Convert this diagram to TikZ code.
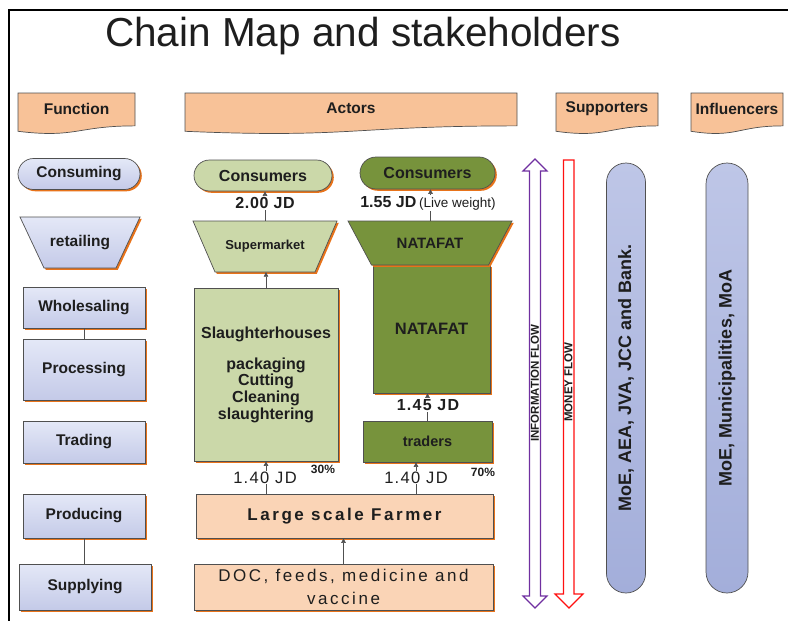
\documentclass[tikz,border=0pt]{standalone}
\usepackage{fontspec}
\setmainfont{Liberation Sans}
\usetikzlibrary{shapes.misc,shadows,arrows.meta}

\definecolor{tabfill}{HTML}{F8C298}
\definecolor{funtop}{HTML}{E4E8F7}
\definecolor{funbot}{HTML}{C4CAE8}
\definecolor{lgreen}{HTML}{CBD8A9}
\definecolor{dgreen}{HTML}{77933C}
\definecolor{peach}{HTML}{FAD4B6}
\definecolor{barL}{HTML}{BEC6E7}
\definecolor{barR}{HTML}{A3AEDA}
\definecolor{shad}{HTML}{E8731A}
\definecolor{edgec}{HTML}{505050}
\definecolor{txt}{HTML}{1E1E1E}
\definecolor{infocol}{HTML}{7030A0}
\definecolor{moneycol}{HTML}{FF1010}

\newcommand\fsz[1]{\fontsize{#1pt}{#1pt}\selectfont}

% tab with wavy bottom: x1 y1 x2 h name text
\newcommand\mytab[6]{%
  \draw[tabstyle] (#1,#2) -- (#3,#2) -- (#3,{#2+0.802*#4})
    .. controls ({(#1+#3)/2},{#2+0.802*#4}) and ({(#1+#3)/2},{#2+1.1075*#4}) .. (#1,{#2+0.934*#4}) -- cycle;
  \node[tabtxt] (#5) at ({(#1+#3)/2},{#2+15.5}) {#6};}

% trapezoid: cx cy topw botw h style
\newcommand\mytrap[6]{%
  \path[#6] ({#1-#3/2},{#2-#5/2}) -- ({#1+#3/2},{#2-#5/2}) -- ({#1+#4/2},{#2+#5/2}) -- ({#1-#4/2},{#2+#5/2}) -- cycle;}

\begin{document}
\begin{tikzpicture}[x=1pt,y=-1pt,
  every node/.style={text=txt},
  tabstyle/.style={draw=edgec, line width=0.7pt, fill=tabfill},
  tabtxt/.style={font=\bfseries\fsz{15.5}, inner sep=0pt},
  oshadow/.style={drop shadow={shadow xshift=1.8pt, shadow yshift=-1.8pt, fill=shad, opacity=1}},
  funbox/.style={draw=edgec, line width=0.7pt, top color=funtop, bottom color=funbot, oshadow,
                 font=\bfseries\fsz{15.5}, inner sep=0pt, minimum width=122pt},
  funpath/.style={draw=edgec, line width=0.7pt, top color=funtop, bottom color=funbot, oshadow},
  lgbox/.style={draw=edgec, line width=0.7pt, fill=lgreen, oshadow, inner sep=0pt},
  dgbox/.style={draw=edgec, line width=0.7pt, fill=dgreen, oshadow, inner sep=0pt},
  pbox/.style={draw=edgec, line width=0.7pt, fill=peach, oshadow, inner sep=0pt},
  bar/.style={rounded rectangle, draw=edgec, line width=0.7pt, top color=barL, bottom color=barR,
              font=\bfseries\fsz{18}, inner sep=0pt, rotate=90},
  conn/.style={draw=edgec, line width=0.6pt, -{Triangle[length=4.5pt,width=4.5pt]}},
  plain/.style={draw=edgec, line width=0.7pt},
  lab/.style={fill=white, inner sep=1pt},
  flowtxt/.style={font=\bfseries\fsz{11.5}, rotate=90, inner sep=0pt}]

\useasboundingbox (0,0) rectangle (788,621);
\fill[white] (0,0) rectangle (788,621);

% frame
\draw[line width=1.3pt] (9,621) -- (9,10) -- (788,10);

% title
\node[anchor=base, font=\fsz{40.5}, inner sep=0pt] (title) at (363,46) {Chain Map and stakeholders};

% header tabs
\mytab{18}{93}{135}{41}{hfun}{Function}
\mytab{185}{93}{517}{41}{hact}{Actors}
\mytab{556}{93}{658}{41}{hsup}{Supporters}
\mytab{691}{93}{783}{41}{hinf}{Influencers}

% ---------- function column ----------
\node[funbox, rounded rectangle, minimum height=31pt] (fcons) at (79,174) {Consuming};
\mytrap{80}{242.5}{120}{72}{51}{funpath}
\node[font=\bfseries\fsz{15.5}, inner sep=0pt, minimum height=51pt] (fretail) at (80,242.5) {retailing};
\node[funbox, minimum height=41pt] (fwhole) at (84,307.5) {Wholesaling};
\node[funbox, minimum height=61pt] (fproc) at (84,369.5) {Processing};
\node[funbox, minimum height=42pt] (ftrade) at (84,442) {Trading};
\node[funbox, minimum height=44pt] (fprod) at (84,516) {Producing};
\node[funbox, minimum width=132pt, minimum height=46pt] (fsupp) at (85,587) {Supplying};
\draw[plain] (fwhole.south) -- (fproc.north);
\draw[plain] (fprod.south) -- (fprod.south |- fsupp.north);

% ---------- actors ----------
\node[lgbox, rounded rectangle, minimum width=138pt, minimum height=31pt, font=\bfseries\fsz{16}] (cons1) at (263,175.5) {Consumers};
\node[dgbox, rounded rectangle, minimum width=135pt, minimum height=32pt, font=\bfseries\fsz{16}] (cons2) at (427.5,173) {Consumers};

\mytrap{265}{246.5}{144}{100}{51}{lgbox}
\node[font=\bfseries\fsz{13}, inner sep=0pt, minimum height=51pt] (super) at (265,246.5) {Supermarket};

\node[dgbox, minimum width=117pt, minimum height=128pt, font=\bfseries\fsz{16.5}] (natbig) at (431.5,329) {NATAFAT};
\mytrap{430}{243}{164}{117}{44}{dgbox}
\node[font=\bfseries\fsz{15}, inner sep=0pt, minimum height=44pt] (nattop) at (430,243) {NATAFAT};

\node[lgbox, minimum width=144pt, minimum height=173pt, align=center,
      font=\bfseries\fontsize{16pt}{16.6pt}\selectfont] (slaught) at (266,374.5)
  {Slaughterhouses\\[14.5pt]packaging\\Cutting\\Cleaning\\slaughtering};

\node[dgbox, minimum width=129pt, minimum height=41pt, font=\bfseries\fsz{14.5}] (traders) at (427.5,441.5) {traders};

\node[pbox, minimum width=297pt, minimum height=44pt, font=\bfseries\fsz{17}\addfontfeature{LetterSpace=15}] (farmer) at (344.5,516) {Large scale Farmer};
\node[pbox, minimum width=299pt, minimum height=46pt, align=center,
      font=\fontsize{17pt}{23pt}\selectfont\addfontfeature{LetterSpace=15}] (doc) at (343.5,587)
  {DOC, feeds, medicine and\\vaccine};

% connectors
\draw[conn] (super.north) -- (super.north |- cons1.south);
\draw[conn] (slaught.north) -- (slaught.north |- super.south);
\draw[conn] (slaught.south |- farmer.north) -- (slaught.south);
\draw[conn] ([xshift=0.5pt]nattop.north) -- ([xshift=0.5pt]nattop.north |- cons2.south);
\draw[conn] (traders.north) -- (traders.north |- natbig.south);
\draw[conn] ([xshift=-11.5pt]traders.south |- farmer.north) -- ([xshift=-11.5pt]traders.south);
\draw[conn] (doc.north) -- (doc.north |- farmer.south);

% connector labels
\node[lab, font=\bfseries\fsz{16}\addfontfeature{LetterSpace=4}] (l200) at (265,203) {2.00 JD};
\node[lab] (l155) at (428,203) {{\bfseries\fsz{16}1.55 JD} {\fsz{13.5}(Live weight)}};
\node[lab, font=\bfseries\fsz{16}\addfontfeature{LetterSpace=8}] (l145) at (428,405) {1.45 JD};
\node[lab, font=\fsz{16.5}\addfontfeature{LetterSpace=8}] (l140a) at (265,477.5) {1.40 JD};
\node[lab, font=\fsz{16.5}\addfontfeature{LetterSpace=8}] (l140b) at (416,477.5) {1.40 JD};
\node[font=\bfseries\fsz{12}, inner sep=0pt] (p30) at (323,469.5) {30\%};
\node[font=\bfseries\fsz{12}, inner sep=0pt] (p70) at (483,472.5) {70\%};

% ---------- flows ----------
\draw[draw=infocol, line width=1.1pt, fill=white]
  (529.5,171) -- (523,171) -- (535,159) -- (547,171) -- (540.5,171) -- (540.5,596)
  -- (547,596) -- (535,608) -- (523,596) -- (529.5,596) -- cycle;
\node[flowtxt] (infotxt) at (535,383) {INFORMATION FLOW};

\draw[draw=moneycol, line width=1.1pt, fill=white]
  (563.5,160) -- (574,160) -- (574,594) -- (583,594) -- (569,608) -- (555,594) -- (563.5,594) -- cycle;
\node[flowtxt] (moneytxt) at (568.5,382) {MONEY FLOW};

% ---------- supporters / influencers ----------
\node[bar, minimum width=430pt, minimum height=39pt] (supbar) at (626,378) {MoE, AEA, JVA, JCC and Bank.};
\node[bar, minimum width=430pt, minimum height=42pt] (infbar) at (727,378) {MoE, Municipalities, MoA};

\end{tikzpicture}
\end{document}
